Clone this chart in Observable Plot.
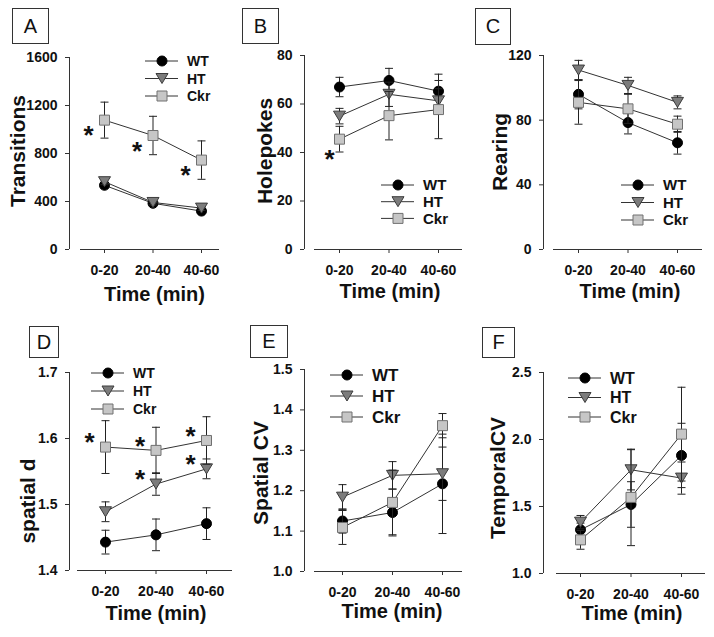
<!DOCTYPE html>
<html><head><meta charset="utf-8">
<script src="https://cdn.jsdelivr.net/npm/d3@7"></script>
<script src="https://cdn.jsdelivr.net/npm/@observablehq/plot@0.6"></script>
<style>
body{margin:0;background:#fff;}
#root{position:relative;width:714px;height:637px;overflow:hidden;font-family:"Liberation Sans",Arial,sans-serif;background:#fff;}
.panel{position:absolute;}
.tag{position:absolute;border:1px solid #333;box-sizing:border-box;display:flex;align-items:center;justify-content:center;font-size:20px;color:#111;background:#fff;font-family:"Liberation Sans",Arial,sans-serif;}
</style></head><body><div id="root"></div>
<script>
// ---------- data ----------
const times = ["0-20", "20-40", "40-60"];
const groups = ["WT", "HT", "Ckr"];

// A: Transitions
const transWT = [535, 385, 320], transWTErr = [25, 20, 20];
const transHT = [565, 392, 345], transHTErr = [25, 20, 20];
const transCkr = [1078, 950, 745], transCkrErr = [150, 160, 160];
// B: Holepokes
const holeWT = [67, 69.7, 65.3], holeWTErr = [4, 5, 7];
const holeHT = [55, 64, 61.3], holeHTErr = [3.2, 5, 5];
const holeCkr = [45.5, 55.2, 57.7], holeCkrErr = [5.3, 10, 12];
// C: Rearing
const rearWT = [96, 78.5, 66], rearWTErr = [9, 7, 7];
const rearHT = [111, 101.5, 91], rearHTErr = [6, 5, 4];
const rearCkr = [91, 87, 77.5], rearCkrErr = [13.5, 9, 5];
// D: spatial d
const sdWT = [1.443, 1.454, 1.471], sdWTErr = [0.018, 0.024, 0.024];
const sdHT = [1.489, 1.531, 1.554], sdHTErr = [0.015, 0.017, 0.015];
const sdCkr = [1.587, 1.582, 1.597], sdCkrErr = [0.04, 0.035, 0.036];
// E: Spatial CV
const scvWT = [1.125, 1.146, 1.217], scvWTErr = [0.03, 0.058, 0.123];
const scvHT = [1.184, 1.238, 1.242], scvHTErr = [0.031, 0.034, 0.066];
const scvCkr = [1.109, 1.171, 1.361], scvCkrErr = [0.042, 0.08, 0.03];
// F: TemporalCV
const tcvWT = [1.326, 1.515, 1.881], tcvWTErr = [0.05, 0.17, 0.24];
const tcvHT = [1.383, 1.774, 1.712], tcvHTErr = [0.05, 0.15, 0.12];
const tcvCkr = [1.251, 1.568, 2.04], tcvCkrErr = [0.07, 0.36, 0.35];

// significance stars: [group, time index]
const starsA = [["Ckr", 0], ["Ckr", 1], ["Ckr", 2]];
const starsB = [["Ckr", 0]];
const starsD = [["Ckr", 0], ["Ckr", 1], ["Ckr", 2], ["HT", 1], ["HT", 2]];

// y ticks
const ticksA = [0, 400, 800, 1200, 1600];
const ticksB = [0, 20, 40, 60, 80];
const ticksC = [0, 40, 80, 120];
const ticksD = [1.4, 1.5, 1.6, 1.7];
const ticksE = [1.0, 1.1, 1.2, 1.3, 1.4, 1.5];
const ticksF = [1.0, 1.5, 2.0, 2.5];

// ---------- styles ----------
const FONT = "Liberation Sans, Arial, sans-serif";
const LINE = "#333";
const sty = {
  WT: {fill: "#000", stroke: "#000"},
  HT: {fill: "#7c7c7c", stroke: "#3c3c3c"},
  Ckr: {fill: "#c6c6c6", stroke: "#707070"}
};
const circleSym = {draw(ctx, size) { const r = Math.sqrt(size / Math.PI); ctx.moveTo(r, 0); ctx.arc(0, 0, r, 0, 2 * Math.PI); }};
const triDownSym = {draw(ctx, size) { const r = Math.sqrt(size / Math.PI); ctx.moveTo(-1.2 * r, -r); ctx.lineTo(1.2 * r, -r); ctx.lineTo(0, r); ctx.closePath(); }};
const squareSym = {draw(ctx, size) { const r = Math.sqrt(size / Math.PI); ctx.moveTo(-r, -r); ctx.lineTo(r, -r); ctx.lineTo(r, r); ctx.lineTo(-r, r); ctx.closePath(); }};
const capSym = {draw(ctx, size) { ctx.moveTo(-4, 0); ctx.lineTo(4, 0); }};
const syms = {WT: circleSym, HT: triDownSym, Ckr: squareSym};
const symR = {WT: 5, HT: 5, Ckr: 5};

function rowsOf(vals, errs) {
  return groups.map(g => times.map((t, i) => ({g, t: i, v: vals[g][i], e: errs[g][i]})));
}

const panels = [
  {tag: "A", left: 0, top: 0, width: 235, height: 310, yAxisX: 69, xStart: 80, xEnd: 219, tick0: 104, step: 48.5, yTop: 57, yBot: 249,
   domain: [0, 1600], ticks: ticksA, fmt: d => String(d), ylabel: "Transitions", ylx: 25, yly: 151, xlx: 154.5, xly: 301,
   leg: {x: 162, y0: 61, dy: 17.5, fs: 14}, stars: starsA, sdx: -16, sdy: 16, tagBox: [12, 8, 37, 36],
   vals: {WT: transWT, HT: transHT, Ckr: transCkr}, errs: {WT: transWTErr, HT: transHTErr, Ckr: transCkrErr}},
  {tag: "B", left: 235, top: 0, width: 235, height: 310, yAxisX: 304, xStart: 314, xEnd: 462, tick0: 339, step: 49.5, yTop: 55, yBot: 249,
   domain: [0, 80], ticks: ticksB, fmt: d => String(d), ylabel: "Holepokes", ylx: 272, yly: 151, xlx: 390, xly: 298,
   leg: {x: 398, y0: 185, dy: 16.7, fs: 15}, stars: starsB, sdx: -10, sdy: 21, tagBox: [242, 8, 37, 36],
   vals: {WT: holeWT, HT: holeHT, Ckr: holeCkr}, errs: {WT: holeWTErr, HT: holeHTErr, Ckr: holeCkrErr}},
  {tag: "C", left: 470, top: 0, width: 244, height: 310, yAxisX: 543, xStart: 553, xEnd: 702, tick0: 578, step: 49.5, yTop: 55, yBot: 249,
   domain: [0, 120], ticks: ticksC, fmt: d => String(d), ylabel: "Rearing", ylx: 507, yly: 152, xlx: 630, xly: 298,
   leg: {x: 638, y0: 185, dy: 17.5, fs: 15}, stars: [], sdx: 0, sdy: 0, tagBox: [475, 8, 36, 37],
   vals: {WT: rearWT, HT: rearHT, Ckr: rearCkr}, errs: {WT: rearWTErr, HT: rearHTErr, Ckr: rearCkrErr}},
  {tag: "D", left: 0, top: 318, width: 235, height: 319, yAxisX: 69, xStart: 77, xEnd: 232, tick0: 105, step: 50.5, yTop: 372, yBot: 570,
   domain: [1.4, 1.7], ticks: ticksD, fmt: d3.format(".1f"), ylabel: "spatial d", ylx: 35, yly: 501, xlx: 156, xly: 620,
   leg: {x: 108, y0: 373, dy: 18, fs: 14}, stars: starsD, sdx: -16, sdy: -4, tagBox: [29, 326, 30, 32],
   vals: {WT: sdWT, HT: sdHT, Ckr: sdCkr}, errs: {WT: sdWTErr, HT: sdHTErr, Ckr: sdCkrErr}},
  {tag: "E", left: 235, top: 318, width: 235, height: 319, yAxisX: 304, xStart: 314, xEnd: 462, tick0: 342, step: 50, yTop: 369, yBot: 571,
   domain: [1.0, 1.5], ticks: ticksE, fmt: d3.format(".1f"), ylabel: "Spatial CV", ylx: 268, yly: 473, xlx: 392, xly: 618,
   leg: {x: 347, y0: 375, dy: 21, fs: 17}, stars: [], sdx: 0, sdy: 0, tagBox: [250, 325, 38, 33],
   vals: {WT: scvWT, HT: scvHT, Ckr: scvCkr}, errs: {WT: scvWTErr, HT: scvHTErr, Ckr: scvCkrErr}},
  {tag: "F", left: 470, top: 318, width: 244, height: 319, yAxisX: 543, xStart: 556, xEnd: 705, tick0: 580, step: 50.5, yTop: 372, yBot: 573,
   domain: [1.0, 2.5], ticks: ticksF, fmt: d3.format(".1f"), ylabel: "TemporalCV", ylx: 505, yly: 478, xlx: 632, xly: 620,
   leg: {x: 585, y0: 378, dy: 19.5, fs: 16}, stars: [], sdx: 0, sdy: 0, tagBox: [482, 327, 33, 31],
   vals: {WT: tcvWT, HT: tcvHT, Ckr: tcvCkr}, errs: {WT: tcvWTErr, HT: tcvHTErr, Ckr: tcvCkrErr}}
];

const root = document.getElementById("root");

function symPath(sym, r) { const p = d3.path(); sym.draw(p, Math.PI * r * r); return p.toString(); }

for (const P of panels) {
  const xmin = (P.yAxisX - P.tick0) / P.step;
  const xls = (P.xStart - P.tick0) / P.step;
  const xmax = (P.xEnd - P.tick0) / P.step;
  const series = rowsOf(P.vals, P.errs);
  const marks = [
    Plot.ruleX([xmin], {y1: P.domain[0], y2: P.domain[1], stroke: LINE, strokeWidth: 1}),
    Plot.ruleY([P.domain[0]], {x1: xls, x2: xmax, stroke: LINE, strokeWidth: 1}),
    Plot.axisY({anchor: "left", ticks: P.ticks, tickFormat: P.fmt, tickSize: 4, tickPadding: 8, label: null, stroke: LINE}),
    Plot.axisX({anchor: "bottom", ticks: [0, 1, 2], tickFormat: i => times[i], tickSize: 4, tickPadding: 12, label: null, stroke: LINE})
  ];
  series.forEach(rows => {
    const g = rows[0].g;
    marks.push(
      Plot.line(rows, {x: "t", y: "v", stroke: LINE, strokeWidth: 1}),
      Plot.ruleX(rows, {x: "t", y1: d => d.v - d.e, y2: d => d.v + d.e, stroke: "#222", strokeWidth: 1}),
      Plot.dot(rows, {x: "t", y: d => d.v + d.e, symbol: capSym, r: 4, stroke: "#222", fill: "none", strokeWidth: 1}),
      Plot.dot(rows, {x: "t", y: d => d.v - d.e, symbol: capSym, r: 4, stroke: "#222", fill: "none", strokeWidth: 1}),
      Plot.dot(rows, {x: "t", y: "v", symbol: syms[g], r: symR[g], fill: sty[g].fill, stroke: sty[g].stroke, strokeWidth: 1})
    );
  });
  if (P.stars.length) {
    const starRows = P.stars.map(([g, i]) => ({t: i, v: P.vals[g][i]}));
    marks.push(Plot.text(starRows, {x: "t", y: "v", text: () => "*", dx: P.sdx, dy: P.sdy, fontSize: 26, fontWeight: "bold", fill: "#111"}));
  }
  const svg = Plot.plot({
    width: P.width, height: P.height,
    marginLeft: P.yAxisX - P.left, marginRight: P.left + P.width - P.xEnd,
    marginTop: P.yTop - P.top, marginBottom: P.top + P.height - P.yBot,
    x: {domain: [xmin, xmax], axis: null},
    y: {domain: P.domain, axis: null},
    style: {fontFamily: FONT, fontSize: "14px", fontWeight: "bold", color: "#111", background: "transparent", overflow: "visible"},
    marks
  });
  const s = d3.select(svg);
  // axis titles
  s.append("text").attr("transform", `translate(${P.ylx - P.left},${P.yly - P.top}) rotate(-90)`)
    .attr("text-anchor", "middle").attr("font-size", 21).attr("font-weight", "bold").attr("fill", "#111").text(P.ylabel);
  s.append("text").attr("x", P.xlx - P.left).attr("y", P.xly - P.top)
    .attr("text-anchor", "middle").attr("font-size", 20).attr("font-weight", "bold").attr("fill", "#111").text("Time (min)");
  // legend
  const lg = s.append("g");
  groups.forEach((g, i) => {
    const cx = P.leg.x - P.left, cy = P.leg.y0 + i * P.leg.dy - P.top;
    lg.append("line").attr("x1", cx - 17).attr("x2", cx + 16).attr("y1", cy).attr("y2", cy).attr("stroke", LINE);
    lg.append("path").attr("d", symPath(syms[g], symR[g])).attr("transform", `translate(${cx},${cy})`)
      .attr("fill", sty[g].fill).attr("stroke", sty[g].stroke);
    lg.append("text").attr("x", cx + 25).attr("y", cy).attr("dy", "0.36em").attr("text-anchor", "start").attr("font-size", P.leg.fs)
      .attr("font-weight", "bold").attr("fill", "#111").text(g);
  });
  const div = document.createElement("div");
  div.className = "panel";
  div.style.left = P.left + "px"; div.style.top = P.top + "px";
  div.style.width = P.width + "px"; div.style.height = P.height + "px";
  div.appendChild(svg);
  root.appendChild(div);
}
for (const P of panels) {
  const [x, y, w, h] = P.tagBox;
  const t = document.createElement("div");
  t.className = "tag";
  t.style.left = x + "px"; t.style.top = y + "px"; t.style.width = w + "px"; t.style.height = h + "px";
  t.textContent = P.tag;
  root.appendChild(t);
}
</script>
</body></html>
